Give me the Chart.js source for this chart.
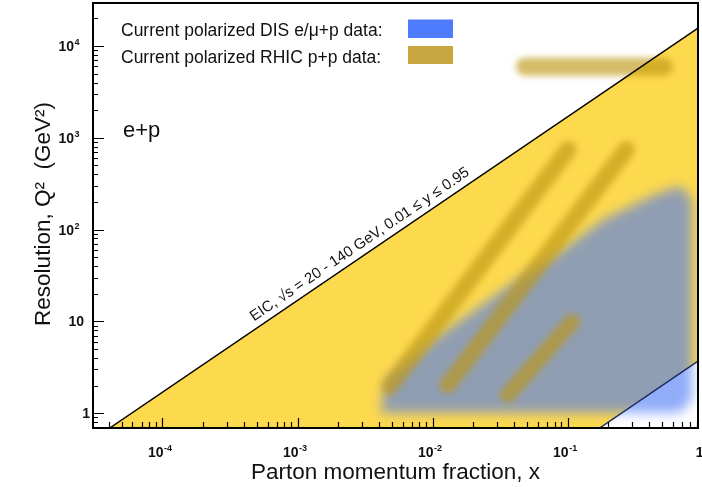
<!DOCTYPE html>
<html><head><meta charset="utf-8">
<script src="https://cdn.jsdelivr.net/npm/chart.js@4.4.0/dist/chart.umd.min.js"></script>
<style>html,body{margin:0;padding:0;background:#fff;}#wrap{width:702px;height:487px;}</style>
</head><body><div id="wrap"><canvas id="c" width="702" height="487"></canvas></div>
<script>
// ---------------- data ----------------
const X_MIN = 3.06e-5, X_MAX = 0.923, Y_MIN = 0.69, Y_MAX = 29400;

// EIC kinematic reach: upper and lower boundary lines
const eicUpperX  = [4.07e-5, 0.923];
const eicUpperQ2 = [0.69, 15700];
const eicLowerX  = [0.1725, 0.923];
const eicLowerQ2 = [0.69, 3.7];

// Current polarized DIS e/mu+p data region (outline)
const disX  = [0.0041, 0.00458, 0.01076, 0.0332, 0.0778, 0.1824, 0.428, 0.679, 0.834, 0.834, 0.679];
const disQ2 = [1.01,   2.3,     6.8,     22,     50.7,   128,    235,   300,   215,   1.40,  1.01];

// Current polarized RHIC p+p data bands (end points)
const rhicA_X = [0.0048, 0.1005];  const rhicA_Q2 = [1.95, 741];
const rhicB_X = [0.0130, 0.271];   const rhicB_Q2 = [2.04, 741];
const rhicC_X = [0.0361, 0.1076];  const rhicC_Q2 = [1.59, 9.93];
const rhicD_X = [0.0483, 0.516];   const rhicD_Q2 = [5950, 5950];

// tick labels
const xTickValues = [1e-4, 1e-3, 1e-2, 1e-1, 1];
const xTickBases  = ['10', '10', '10', '10', '1'];
const xTickExps   = ['-4', '-3', '-2', '-1', ''];
const yTickValues = [1, 10, 100, 1000, 10000];
const yTickBases  = ['1', '10', '10', '10', '10'];
const yTickExps   = ['', '', '2', '3', '4'];

const legendLabels = ['Current polarized DIS e/\u03BC+p data:', 'Current polarized RHIC p+p data:'];
const xTitle = 'Parton momentum fraction, x';
const yTitle = 'Resolution, Q\u00B2  (GeV\u00B2)';
const eicLabel = 'EIC, \u221As = 20 - 140 GeV, 0.01 \u2264 y \u2264 0.95';
const reactionLabel = 'e+p';

// ---------------- helpers ----------------
const pts = (xs, ys) => xs.map((v, i) => ({x: v, y: ys[i]}));
const COL_YELLOW = '#FDD94E';
const COL_BLUE = 'rgba(72,118,246,0.6)';
const COL_BAND = 'rgba(190,150,18,0.64)';
const LEG_BLUE = '#4F7BFE';
const LEG_GOLD = '#C8A640';
const FONT = '"Liberation Sans", Arial, Helvetica, sans-serif';

const eicRegion = pts(eicUpperX, eicUpperQ2).concat(pts(eicLowerX, eicLowerQ2).reverse());

function band(xs, ys, w) {
  return {data: pts(xs, ys), borderColor: COL_BAND, borderWidth: w, borderCapStyle: 'round',
          fill: false, pointRadius: 0, order: 5, blur: 3};
}

// blur plugin: sets canvas filter for each dataset (including its fill)
function blurOf(chart, meta) {
  if (!meta) return 'none';
  const b = chart.data.datasets[meta.index].blur;
  return b ? 'blur(' + b + 'px)' : 'none';
}
const blurPlugin = {
  id: 'blurPlugin',
  beforeDatasetsDraw(chart) {
    const metas = chart.getSortedVisibleDatasetMetas();
    chart.ctx.filter = blurOf(chart, metas[metas.length - 1]);
  },
  beforeDatasetDraw(chart, args) { chart.ctx.filter = blurOf(chart, args.meta); },
  afterDatasetDraw(chart, args) {
    const metas = chart.getSortedVisibleDatasetMetas();
    const pos = metas.indexOf(args.meta);
    chart.ctx.filter = blurOf(chart, metas[pos - 1]);
  },
  afterDatasetsDraw(chart) { chart.ctx.filter = 'none'; }
};

function drawPow(ctx, base, exp, x, baseline, align, bf, ef, rise) {
  ctx.font = bf;
  const wb = ctx.measureText(base).width;
  ctx.font = ef;
  const we = exp ? ctx.measureText(exp).width : 0;
  let left;
  if (align === 'right') left = x - wb - we;
  else if (align === 'baseRight') left = x - wb;
  else left = x - (wb + we) / 2;
  ctx.textAlign = 'left';
  ctx.textBaseline = 'alphabetic';
  ctx.font = bf; ctx.fillText(base, left, baseline);
  if (exp) { ctx.font = ef; ctx.fillText(exp, left + wb + 0.5, baseline - rise); }
}

const decorPlugin = {
  id: 'decor',
  afterDraw(chart) {
    const {ctx, chartArea: a, scales: {x, y}} = chart;
    ctx.save();
    ctx.filter = 'none';
    ctx.fillStyle = '#111';
    ctx.strokeStyle = '#000';

    // ticks (inside)
    ctx.lineWidth = 1.2;
    ctx.beginPath();
    for (let k = -1; k <= 5; k++) for (let m = 1; m <= 9; m++) {
      const v = m * Math.pow(10, k);
      if (v < Y_MIN || v > Y_MAX) continue;
      const py = Math.round(y.getPixelForValue(v)) + 0.5;
      const len = m === 1 ? 11 : 5;
      ctx.moveTo(a.left, py); ctx.lineTo(a.left + len, py);
    }
    for (let k = -5; k <= 0; k++) for (let m = 1; m <= 9; m++) {
      const v = m * Math.pow(10, k);
      if (v < X_MIN || v > X_MAX) continue;
      const px = Math.round(x.getPixelForValue(v)) + 0.5;
      const len = m === 1 ? 10 : 6;
      ctx.moveTo(px, a.bottom); ctx.lineTo(px, a.bottom - len);
    }
    ctx.stroke();

    // frame
    ctx.lineWidth = 2;
    ctx.strokeRect(a.left, a.top, a.right - a.left, a.bottom - a.top);

    // tick labels
    const bf = 'bold 14px ' + FONT, ef = 'bold 9px ' + FONT;
    yTickValues.forEach((v, i) => {
      const py = y.getPixelForValue(v);
      if (yTickExps[i]) drawPow(ctx, yTickBases[i], yTickExps[i], a.left - 19, py + 5, 'baseRight', bf, ef, 6);
      else drawPow(ctx, yTickBases[i], '', a.left - 3 - 6 * (yTickBases[i].length - 1), py + 5, 'right', bf, ef, 6);
    });
    xTickValues.forEach((v, i) => {
      const px = x.getPixelForValue(v);
      if (xTickExps[i]) drawPow(ctx, xTickBases[i], xTickExps[i], px + 1, a.bottom + 29, 'baseRight', bf, ef, 6);
      else drawPow(ctx, xTickBases[i], '', px - 3, a.bottom + 29, 'center', bf, ef, 6);
    });

    // axis titles
    ctx.font = '22.5px ' + FONT;
    ctx.textAlign = 'center';
    ctx.textBaseline = 'alphabetic';
    ctx.fillText(xTitle, (a.left + a.right) / 2, a.bottom + 51);
    ctx.save();
    ctx.translate(50, 214);
    ctx.rotate(-Math.PI / 2);
    ctx.fillText(yTitle, 0, 0);
    ctx.restore();

    // legend
    ctx.font = '17.5px ' + FONT;
    ctx.textAlign = 'left';
    ctx.fillText(legendLabels[0], 121, 36);
    ctx.fillText(legendLabels[1], 121, 63);
    ctx.fillStyle = LEG_BLUE; ctx.fillRect(408, 19.5, 45, 18.5);
    ctx.fillStyle = LEG_GOLD; ctx.fillRect(408, 46, 45, 18);

    // reaction label
    ctx.fillStyle = '#111';
    ctx.font = '22px ' + FONT;
    ctx.fillText(reactionLabel, 123, 137);

    // label along the EIC upper line
    const p1 = {x: x.getPixelForValue(eicUpperX[0]), y: y.getPixelForValue(eicUpperQ2[0])};
    const p2 = {x: x.getPixelForValue(eicUpperX[1]), y: y.getPixelForValue(eicUpperQ2[1])};
    const ang = Math.atan2(p2.y - p1.y, p2.x - p1.x);
    const t = (258 - p1.x) / (p2.x - p1.x);
    ctx.save();
    ctx.translate(p1.x + t * (p2.x - p1.x), p1.y + t * (p2.y - p1.y));
    ctx.rotate(ang);
    ctx.font = '15px ' + FONT;
    ctx.fillText(eicLabel, 0, -7);
    ctx.restore();

    ctx.restore();
  }
};

new Chart(document.getElementById('c'), {
  type: 'line',
  data: {
    datasets: [
      {label: 'EIC', data: eicRegion, backgroundColor: COL_YELLOW, borderWidth: 0, fill: 'shape', pointRadius: 0, order: 10},
      {label: 'DIS', data: pts(disX, disQ2), backgroundColor: COL_BLUE, borderWidth: 0, fill: 'shape', pointRadius: 0, order: 8, blur: 6},
      Object.assign({label: 'RHIC A'}, band(rhicA_X, rhicA_Q2, 17)),
      Object.assign({label: 'RHIC B'}, band(rhicB_X, rhicB_Q2, 17)),
      Object.assign({label: 'RHIC C'}, band(rhicC_X, rhicC_Q2, 16)),
      Object.assign({label: 'RHIC D'}, band(rhicD_X, rhicD_Q2, 18)),
      {label: 'EIC upper', data: pts(eicUpperX, eicUpperQ2), borderColor: '#000', borderWidth: 1.5, fill: false, pointRadius: 0, order: 1},
      {label: 'EIC lower', data: pts(eicLowerX, eicLowerQ2), borderColor: '#1a2a60', borderWidth: 1.5, fill: false, pointRadius: 0, order: 1}
    ]
  },
  options: {
    responsive: false, animation: false, devicePixelRatio: 1,
    layout: {padding: {left: 93, right: 4, top: 3, bottom: 59}},
    elements: {line: {tension: 0}},
    scales: {
      x: {type: 'logarithmic', min: X_MIN, max: X_MAX, display: false},
      y: {type: 'logarithmic', min: Y_MIN, max: Y_MAX, display: false}
    },
    plugins: {legend: {display: false}, tooltip: {enabled: false}}
  },
  plugins: [blurPlugin, decorPlugin]
});
</script></body></html>
